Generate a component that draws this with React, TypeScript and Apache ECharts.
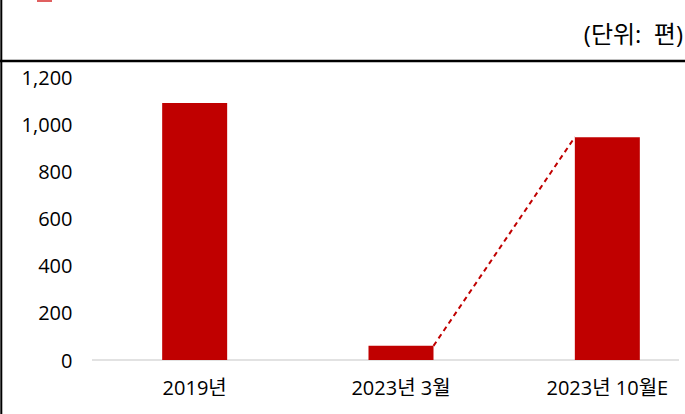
import React, { useEffect, useRef } from "react";
import * as echarts from "echarts";

const categories = ["2019년", "2023년 3월", "2023년 10월E"];
const values = [1090, 60, 945];
const yTicks = { min: 0, max: 1200, interval: 200 };
const unitLabel = "(단위:  편)";

const RED = "#C00000";
const FONT = "'Open Sans', 'Noto Sans CJK KR', sans-serif";
const BAR_RATIO = 0.315;

export default function App() {
  const ref = useRef<HTMLDivElement>(null);
  useEffect(() => {
    if (!ref.current) return;
    const chart = echarts.init(ref.current, null, { renderer: "svg" });
    chart.setOption({
      animation: false,
      backgroundColor: "#ffffff",
      grid: { left: 91.5, top: 77, width: 619, height: 283, containLabel: false, outerBoundsMode: "none" },
      xAxis: {
        type: "category",
        data: categories,
        axisLine: { show: false },
        axisTick: { show: false },
        axisLabel: { color: "#000", fontSize: 20, fontFamily: FONT, margin: 17 },
      },
      yAxis: {
        type: "value",
        min: yTicks.min,
        max: yTicks.max,
        interval: yTicks.interval,
        splitLine: { show: false },
        axisLine: { show: false },
        axisTick: { show: false },
        axisLabel: {
          color: "#000",
          fontSize: 20,
          fontFamily: FONT,
          margin: 19,
          formatter: (v: number) => v.toLocaleString("en-US"),
        },
      },
      graphic: [
        { type: "line", shape: { x1: 1.3, y1: 0, x2: 1.3, y2: 414 }, style: { stroke: "#000", lineWidth: 2 } },
        { type: "line", shape: { x1: 0, y1: 61, x2: 685, y2: 61 }, style: { stroke: "#000", lineWidth: 2.5 } },
        { type: "rect", shape: { x: 37, y: -10, width: 15, height: 12 }, style: { fill: "#E06060" } },
        {
          type: "text",
          x: 683,
          y: 33,
          style: {
            text: unitLabel,
            fontSize: 24,
            fontFamily: FONT,
            fill: "#000",
            align: "right",
            verticalAlign: "middle",
          },
        },
        { type: "line", z: 0, shape: { x1: 92, y1: 360, x2: 679, y2: 360 }, style: { stroke: "#D9D9D9", lineWidth: 1.5 } },
      ],
      series: [
        {
          type: "bar",
          data: values,
          barWidth: BAR_RATIO * 100 + "%",
          itemStyle: { color: RED },
          z: 2,
        },
        {
          type: "custom",
          data: [[1, values[1]]],
          z: 3,
          renderItem: (params: any, api: any) => {
            const band = api.size([1, 0])[0];
            const half = (band * BAR_RATIO) / 2;
            const p1 = api.coord([1, values[1]]);
            const p2 = api.coord([2, values[2]]);
            return {
              type: "line",
              shape: { x1: p1[0] + half, y1: p1[1], x2: p2[0] - half, y2: p2[1] },
              style: { stroke: RED, lineWidth: 2, lineDash: [5, 4], fill: null },
            };
          },
        },
      ],
    });
    return () => chart.dispose();
  }, []);
  return (
    <div style={{ position: "fixed", left: 0, top: 0, width: 685, height: 414, overflow: "hidden" }}>
      <div ref={ref} style={{ width: 740, height: 414 }} />
    </div>
  );
}
